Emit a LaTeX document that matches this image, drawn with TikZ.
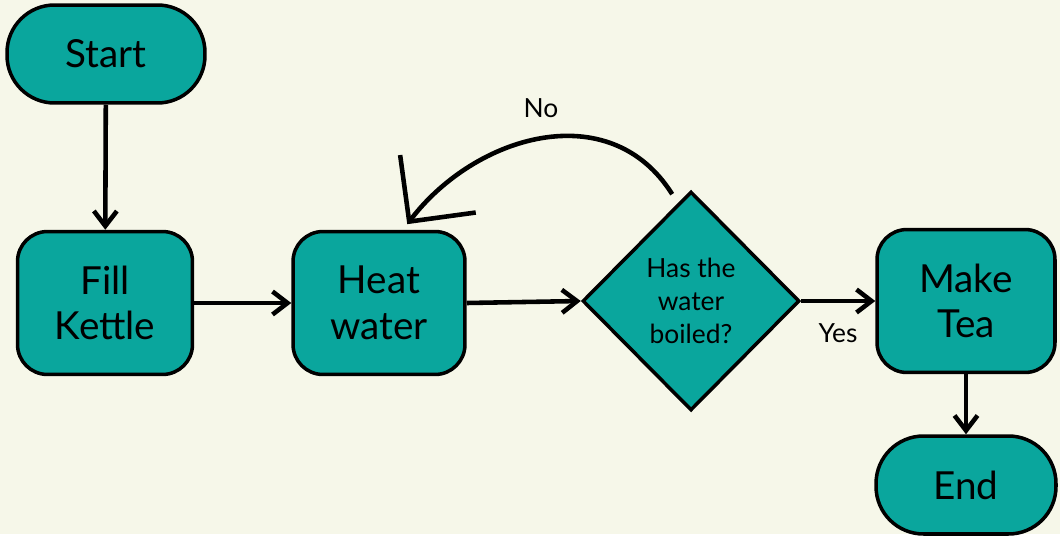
\documentclass[tikz,border=0pt]{standalone}
\usepackage{fontspec}
\setmainfont{Lato}
\usetikzlibrary{shapes.geometric,arrows.meta,calc}
\definecolor{tealfill}{HTML}{0AA69D}
\definecolor{paper}{HTML}{F6F7E9}

\begin{document}
\begin{tikzpicture}[x=0.02cm, y=-0.02cm,
  terminal/.style={draw, line width=2pt, fill=tealfill, rounded corners=0.95cm,
    minimum width=3.96cm, minimum height=1.96cm, font=\fontsize{22}{26}\selectfont},
  process/.style={draw, line width=2pt, fill=tealfill, rounded corners=0.6cm,
    minimum width=3.5cm, minimum height=2.86cm, align=center, font=\fontsize{22}{26}\selectfont},
  decision/.style={diamond, draw, line width=2pt, fill=tealfill, inner sep=0pt,
    minimum width=4.34cm, minimum height=4.38cm, align=center, font=\fontsize{15}{18.7}\selectfont},
  flow/.style={line width=2.6pt, -{Straight Barb[length=0.3cm,width=0.46cm]}},
  lbl/.style={font=\fontsize{15}{18}\selectfont}]

% Background
\fill[paper] (0,0) rectangle (1060,534);

% Terminals
\node[terminal] (start) at (106,54) {Start};
\node[terminal, minimum width=3.6cm] (end) at (966,485) {End};

% Steps
\node[process] (fill) at (105,303) {Fill\\Kettle};
\node[process, minimum width=3.44cm] (heat) at (379,303) {Heat\\water};
\node[process, minimum width=3.56cm] (tea) at (966,301) {Make\\Tea};

% Decision
\node[decision] (boiled) at (691,301) {Has the\\water\\boiled?};

% Straight connectors
\draw[flow] (start) -- (fill);
\draw[flow] (fill) -- (heat);
\draw[flow] (heat.east) -- (boiled.west);
\draw[flow] (boiled.east) -- (tea.west |- boiled.east);
\draw[flow] (tea) -- (end);

% Loop back when not boiled
\coordinate (loopstart) at ($(boiled.north)!0.12!(boiled.west)$);
\coordinate (loopend) at ([xshift=0.48cm]heat.north);
\draw[line width=2.6pt, shorten <=6pt, shorten >=4pt,
  -{Straight Barb[length=0.95cm,width=1.9cm]}]
  (loopstart) .. controls (610,95) and (475,135) .. (loopend);

% Branch labels
\node[lbl] (no) at (541,108) {No};
\node[lbl] (yes) at (838,333) {Yes};

\end{tikzpicture}
\end{document}
